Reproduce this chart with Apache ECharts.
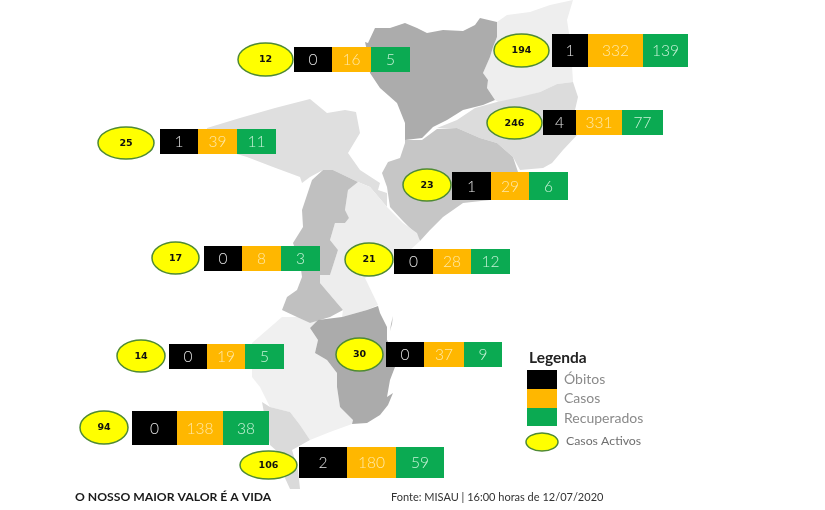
<!DOCTYPE html>
<html>
<head>
<meta charset="utf-8">
<style>html,body{margin:0;padding:0;background:#fff}#c{width:825px;height:510px}</style>
<script src="https://cdn.jsdelivr.net/npm/echarts@6/dist/echarts.min.js"></script>
</head>
<body>
<div id="c"></div>
<script>
// ---- values (north to south) ----
const activos     = [12,194,246,23,25,17,21,14,30,94,106];
const obitos      = [0,1,4,1,1,0,0,0,0,0,2];
const casos       = [16,332,331,29,39,8,28,19,37,138,180];
const recuperados = [5,139,77,6,11,3,12,5,9,38,59];
const legendLabels = ['Óbitos','Casos','Recuperados','Casos Activos'];
const legendTitle = 'Legenda';
const footerLeft = 'O NOSSO MAIOR VALOR É A VIDA';
const footerRight = 'Fonte: MISAU | 16:00 horas de 12/07/2020';

// ---- layout (page pixels) ----
const ellipses = [[238,43,293,76],[494,34,549,67],[487,107,542,139],[403,169,451,201],[98,127,154,159],[152,242,199,274],[345,243,393,276],[117,340,165,372],[336,338,383,371],[80,411,128,444],[240,451,297,479]];
const cellX = [[294,332,371,410],[552,588,643,688],[543,576,622,663],[452,491,529,568],[160,198,237,276],[204,242,281,320],[394,433,471,510],[169,207,245,284],[386,424,464,502],[132,177,223,269],[299,347,396,444]];
const cellY = [[47,72],[34,67],[110,135],[172,200],[129,154],[246,271],[249,274],[344,369],[342,367],[411,445],[447,478]];
const cellColors = ['#000000','#FFB700','#0BAA52'];
const cellText = ['#E4E4E4','#FFE9A8','#C9F2D8'];

// ---- map outlines (page pixels, traced) ----
const outlines = {
 'Niassa':[[365,42],[368,43],[375,28],[390,28],[405,23],[417,28],[427,33],[443,30],[463,31],[475,25],[480,18],[497,22],[497,37],[493,47],[490,57],[483,73],[488,80],[487,88],[495,100],[483,105],[463,110],[447,120],[433,127],[422,138],[405,140],[405,123],[397,103],[380,88],[370,73],[368,55]],
 'Cabo Delgado':[[497,22],[507,15],[530,12],[550,5],[573,0],[570,10],[567,20],[570,40],[572,65],[573,82],[557,84],[540,92],[520,98],[500,103],[495,100],[487,88],[488,80],[483,73],[490,57],[493,47],[497,37]],
 'Nampula':[[437,128],[457,120],[475,108],[497,102],[520,97],[540,92],[557,84],[573,82],[578,97],[575,110],[577,135],[563,150],[552,163],[543,168],[520,170],[513,157],[497,143],[480,138],[457,128]],
 'Zambézia':[[405,140],[422,140],[437,129],[457,128],[480,138],[497,143],[513,157],[518,172],[505,190],[490,200],[463,203],[443,217],[430,230],[420,241],[415,233],[402,220],[390,207],[387,187],[382,173],[388,162],[400,158],[405,143]],
 'Tete':[[207,128],[240,118],[275,108],[310,99],[327,113],[345,110],[356,112],[360,133],[348,153],[360,170],[380,183],[378,190],[387,193],[387,207],[370,187],[358,182],[333,170],[323,170],[310,177],[302,183],[300,177],[273,167],[247,157],[230,152],[207,150]],
 'Manica':[[323,170],[333,170],[358,182],[348,190],[345,210],[349,218],[345,223],[335,223],[330,240],[338,250],[330,275],[320,275],[320,283],[337,303],[343,310],[330,317],[310,323],[297,317],[282,310],[287,297],[297,290],[302,277],[300,262],[293,243],[303,227],[302,210],[312,180]],
 'Sofala':[[358,182],[370,187],[387,207],[403,223],[417,233],[420,241],[410,250],[395,262],[365,278],[378,305],[367,310],[342,317],[343,310],[337,303],[320,283],[320,275],[330,275],[338,250],[330,240],[335,223],[345,223],[349,218],[345,210],[348,190]],
 'Inhambane':[[378,306],[367,310],[342,317],[318,320],[310,328],[318,340],[315,353],[327,360],[337,373],[337,387],[340,407],[353,420],[352,424],[367,423],[380,415],[388,405],[393,393],[387,397],[390,380],[395,367],[392,350],[387,340],[387,327],[380,313]],
 'Gaza':[[282,317],[298,317],[310,323],[318,320],[310,328],[318,340],[315,353],[327,360],[337,373],[337,387],[340,407],[353,420],[352,424],[330,432],[310,440],[300,425],[290,412],[270,407],[260,387],[252,377],[252,343]],
 'Maputo Província':[[262,402],[270,407],[290,412],[300,425],[310,440],[292,450],[298,470],[300,489],[290,489],[285,478],[278,452],[270,445]],
 'Ilha':[[391,324],[393,316],[392,324],[390,331]]
};
const regionColors = {'Niassa':'#ACACAC','Cabo Delgado':'#EEEEEE','Nampula':'#DCDCDC','Zambézia':'#C6C6C6','Tete':'#DFDFDF','Manica':'#C0C0C0','Sofala':'#EDEDED','Inhambane':'#ABABAB','Gaza':'#F0F0F0','Maputo Província':'#DADADA','Ilha':'#BBBBBB'};
const paintOrder = ['Cabo Delgado','Nampula','Niassa','Tete','Zambézia','Sofala','Gaza','Manica','Inhambane','Maputo Província','Ilha'];

const W = 825, H = 510;
echarts.registerMap('moz', {type:'FeatureCollection',features:paintOrder.map(n=>({
  type:'Feature',properties:{name:n},
  geometry:{type:'Polygon',coordinates:[outlines[n].concat([outlines[n][0]]).map(p=>[p[0],H-p[1]])]}
}))});

const chart = echarts.init(document.getElementById('c'), null, {renderer:'canvas'});
const bodyFont = 'Lato, "Open Sans", sans-serif';
const rows = activos.map((v,i)=>i);

function drawRow(params, api){
  const i = api.value(0);
  const e = ellipses[i], cx = cellX[i], cy = cellY[i];
  const tl = api.coord([e[0],e[1]]), br = api.coord([e[2],e[3]]);
  const children = [{
    type:'ellipse',
    shape:{cx:(tl[0]+br[0])/2,cy:(tl[1]+br[1])/2,rx:(br[0]-tl[0])/2,ry:(br[1]-tl[1])/2},
    style:{fill:'#FFFF00',stroke:'#4F8A34',lineWidth:1.5}
  },{
    type:'text',
    style:{x:(tl[0]+br[0])/2,y:(tl[1]+br[1])/2+0.5,text:String(activos[i]),align:'center',verticalAlign:'middle',fill:'#111',font:'bold 9.5px "DejaVu Sans", sans-serif'}
  }];
  const vals = [obitos[i],casos[i],recuperados[i]];
  vals.forEach((v,k)=>{
    const a = api.coord([cx[k],cy[0]]), b = api.coord([cx[k+1],cy[1]]);
    children.push({type:'rect',shape:{x:a[0],y:a[1],width:b[0]-a[0],height:b[1]-a[1]},style:{fill:cellColors[k]}});
    children.push({type:'text',style:{x:(a[0]+b[0])/2,y:(a[1]+b[1])/2+0.5,text:String(v),align:'center',verticalAlign:'middle',fill:cellText[k],font:'300 15.5px '+bodyFont}});
  });
  return {type:'group',children};
}

const legendSwatchY = [[370,389],[389,408],[408,426]];
const legendTextY = [379,398,418];

function drawLegend(params, api){
  const children = [];
  legendSwatchY.forEach((y,k)=>{
    const a = api.coord([527,y[0]]), b = api.coord([557,y[1]]);
    children.push({type:'rect',shape:{x:a[0],y:a[1],width:b[0]-a[0],height:b[1]-a[1]},style:{fill:cellColors[k]}});
    const t = api.coord([564,legendTextY[k]]);
    children.push({type:'text',style:{x:t[0],y:t[1],text:legendLabels[k],verticalAlign:'middle',fill:'#8A8A8A',font:'14px '+bodyFont}});
  });
  const c = api.coord([542,442]);
  children.push({type:'ellipse',shape:{cx:c[0],cy:c[1],rx:16,ry:9},style:{fill:'#FFFF00',stroke:'#4F8A34',lineWidth:1.5}});
  const t4 = api.coord([566,441]);
  children.push({type:'text',style:{x:t4[0],y:t4[1],text:legendLabels[3],verticalAlign:'middle',fill:'#6F6F6F',font:'12.3px '+bodyFont}});
  const h = api.coord([529,358]);
  children.push({type:'text',style:{x:h[0],y:h[1],text:legendTitle,verticalAlign:'middle',fill:'#222',font:'bold 15.5px '+bodyFont}});
  const f1 = api.coord([75,497]);
  children.push({type:'text',style:{x:f1[0],y:f1[1],text:footerLeft,verticalAlign:'middle',fill:'#1a1a1a',font:'bold 12.2px '+bodyFont}});
  const f2 = api.coord([391,497]);
  children.push({type:'text',style:{x:f2[0],y:f2[1],text:footerRight,verticalAlign:'middle',fill:'#333',font:'11px '+bodyFont}});
  return {type:'group',children};
}

chart.setOption({
  animation:false,
  backgroundColor:'#fff',
  grid:{left:0,top:0,width:W,height:H},
  xAxis:{type:'value',min:0,max:W,show:false},
  yAxis:{type:'value',min:0,max:H,inverse:true,show:false},
  series:[
    {type:'map',map:'moz',silent:true,left:0,top:0,width:W,height:H,aspectScale:1,
     boundingCoords:[[0,H],[W,0]],roam:false,z:1,label:{show:false},
     itemStyle:{borderWidth:0,areaColor:'#ddd'},
     data:paintOrder.map(n=>({name:n,value:1,itemStyle:{areaColor:regionColors[n],borderWidth:0}}))},
    {type:'custom',silent:true,z:2,clip:false,data:rows.map(i=>[i]),renderItem:drawRow,encode:{x:0,y:0}},
    {type:'custom',silent:true,z:3,clip:false,data:[[0]],renderItem:drawLegend,encode:{x:0,y:0}}
  ]
});
</script>
</body>
</html>
